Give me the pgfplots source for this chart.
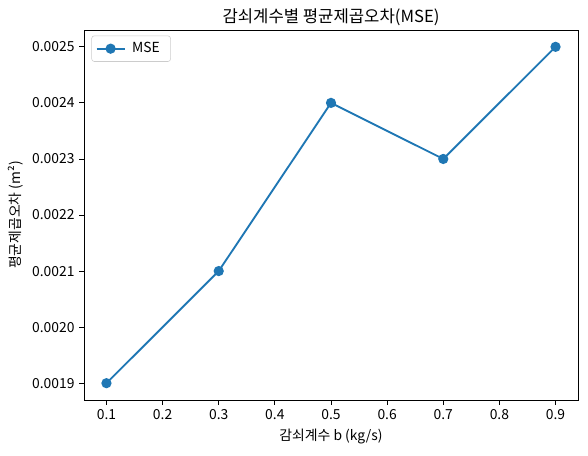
\documentclass[border=0pt]{standalone}
\usepackage{fontspec}
\setmainfont{Noto Sans CJK KR}
\usepackage{pgfplots}
\pgfplotsset{compat=1.18}

\definecolor{tabblue}{HTML}{1F77B4}

\begin{document}
\begin{tikzpicture}[x=1pt,y=1pt]
\begin{axis}[
    scale only axis,
    width=370.5pt, height=277.5pt,
    at={(0,0)}, anchor=south west,
    xmin=0.06, xmax=0.94,
    ymin=0.00187, ymax=0.00253,
    xtick={0.1,0.2,0.3,0.4,0.5,0.6,0.7,0.8,0.9},
    ytick={0.0019,0.0020,0.0021,0.0022,0.0023,0.0024,0.0025},
    scaled y ticks=false,
    /pgf/number format/assume math mode=true,
    xticklabel style={/pgf/number format/.cd, fixed, fixed zerofill, precision=1},
    yticklabel style={/pgf/number format/.cd, fixed, fixed zerofill, precision=4},
    tick label style={font=\fontsize{10.4pt}{12pt}\selectfont},
    tick align=outside, tickpos=left,
    major tick length=3.6pt,
    every tick/.style={black, line width=0.6pt},
    axis line style={line width=0.6pt},
    title={감쇠계수별 평균제곱오차(MSE)},
    title style={font=\fontsize{12.5pt}{14pt}\selectfont, yshift=-6pt},
    xlabel={감쇠계수 b (kg/s)},
    ylabel={평균제곱오차 (m²)},
    label style={font=\fontsize{10.4pt}{12pt}\selectfont},
    legend pos=north west,
    legend style={font=\fontsize{10.4pt}{12pt}\selectfont, draw=black!20, rounded corners=2pt,
        inner xsep=3pt, inner ysep=3pt, at={(0.015,0.985)},
        nodes={inner xsep=5pt}},
    legend cell align=left,
    legend image code/.code={
        \draw[mark repeat=2, mark phase=2] plot coordinates {(0pt,0pt) (10.5pt,0pt) (21pt,0pt)};
    },
]
\addplot[tabblue, line width=1.4pt, mark=*, mark size=3.1pt, mark options={fill=tabblue, draw=tabblue}]
coordinates {
    (0.1,0.0019)
    (0.3,0.0021)
    (0.5,0.0024)
    (0.7,0.0023)
    (0.9,0.0025)
};
\addlegendentry{MSE}
\end{axis}
\pgfresetboundingbox
\useasboundingbox (-63pt,-41.25pt) rectangle (378pt,300pt);
\end{tikzpicture}
\end{document}
